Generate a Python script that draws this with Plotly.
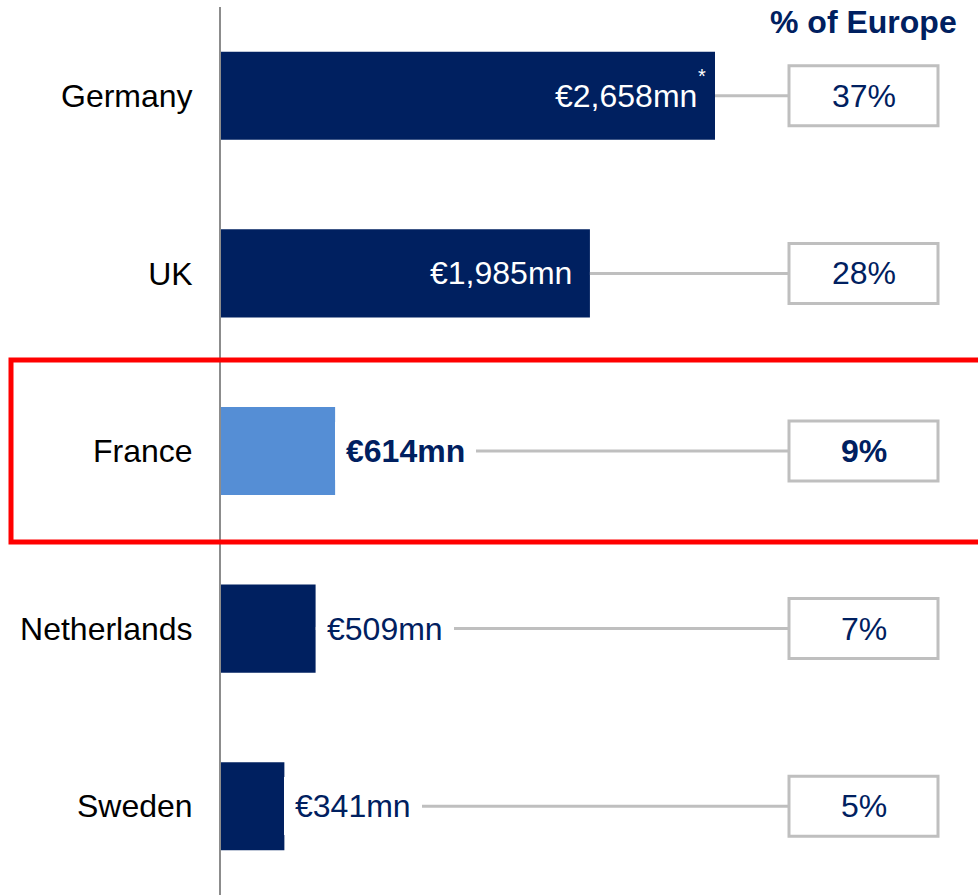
import plotly.graph_objects as go

countries = ["Germany", "UK", "France", "Netherlands", "Sweden"]
values = [2658, 1985, 614, 509, 341]
value_labels = ["€2,658mn", "€1,985mn", "€614mn", "€509mn", "€341mn"]
share_labels = ["37%", "28%", "9%", "7%", "5%"]
highlight = "France"

NAVY = "#002060"
LIGHT = "#558ED5"
GRAY = "#BFBFBF"
FONT = "Liberation Sans, Arial, sans-serif"
FS = 32

W, H = 978, 895
ML, MT = 221, 7
plot_w = W - ML
px_per_unit = (715 - 221) / 2658.0
xmax = plot_w / px_per_unit

bar_colors = [LIGHT if c == highlight else NAVY for c in countries]

fig = go.Figure()
fig.add_trace(go.Bar(
    y=countries, x=values, orientation="h",
    marker=dict(color=bar_colors, line=dict(width=0)),
    width=0.496, hoverinfo="skip",
))

box_x0 = (789 - ML) / plot_w
box_x1 = (938 - ML) / plot_w
box_xc = (box_x0 + box_x1) / 2
box_half = 0.169

shapes = []
annotations = []
for i, (c, v, lab, sh) in enumerate(zip(countries, values, value_labels, share_labels)):
    bold = c == highlight
    # connector
    shapes.append(dict(type="line", xref="x", yref="y", x0=v, x1=box_x0 * xmax,
                       y0=c, y1=c, line=dict(color=GRAY, width=3), layer="above"))
    # box
    shapes.append(dict(type="rect", xref="paper", yref="y", x0=box_x0, x1=box_x1,
                       y0=i - box_half, y1=i + box_half,
                       line=dict(color=GRAY, width=3), fillcolor="white", layer="above"))
    annotations.append(dict(xref="paper", yref="y", x=box_xc, y=c, xanchor="center",
                            text=f"<b>{sh}</b>" if bold else sh, showarrow=False,
                            font=dict(family=FONT, size=FS, color=NAVY)))
    inside = v > 1000
    if inside:
        annotations.append(dict(xref="x", yref="y", x=v, y=c, text=lab, showarrow=False,
                                xanchor="right", xshift=-16,
                                font=dict(family=FONT, size=FS, color="white")))
    else:
        annotations.append(dict(xref="x", yref="y", x=v, y=c,
                                text=f"<b>{lab}</b>" if bold else lab, showarrow=False,
                                xanchor="left", xshift=0, bgcolor="white", borderpad=11,
                                borderwidth=0,
                                font=dict(family=FONT, size=FS, color=NAVY)))

# asterisk on Germany
annotations.append(dict(xref="x", yref="y", x=values[0], y=countries[0], text="*",
                        showarrow=False, xanchor="center", xshift=-13, yshift=20,
                        font=dict(family=FONT, size=20, color="white")))

# header
annotations.append(dict(xref="paper", yref="paper", x=box_xc, y=1 - (22 - MT) / (H - MT),
                        text="<b>% of Europe</b>", showarrow=False, xanchor="center",
                        yanchor="middle",
                        font=dict(family=FONT, size=FS, color=NAVY)))

# highlight frame
shapes.append(dict(type="rect", xref="paper", yref="y",
                   x0=(11 - ML) / plot_w, x1=(985 - ML) / plot_w,
                   y0=2 - 0.513, y1=2 + 0.513,
                   line=dict(color="#FF0000", width=5), layer="above"))

fig.update_layout(
    width=W, height=H,
    margin=dict(l=ML, r=0, t=MT, b=0),
    paper_bgcolor="white", plot_bgcolor="white",
    showlegend=False,
    xaxis=dict(range=[0, xmax], visible=False, fixedrange=True),
    yaxis=dict(autorange="reversed", showline=True, linecolor="#8C8C8C", linewidth=2,
               showgrid=False, zeroline=False, ticks="", ticklabelstandoff=20,
               tickfont=dict(family=FONT, size=FS, color="black"), fixedrange=True),
    shapes=shapes, annotations=annotations,
    bargap=0.5,
)

fig.write_html("out.html")
